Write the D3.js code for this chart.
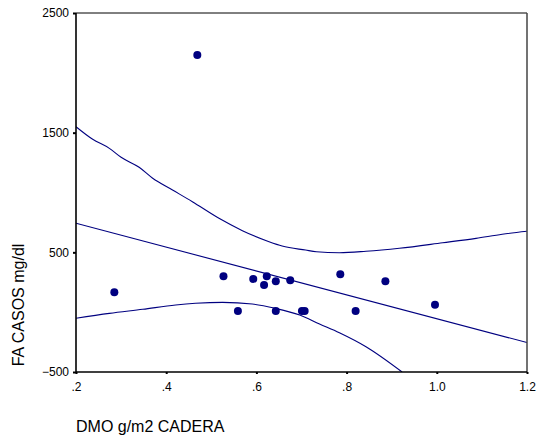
<!DOCTYPE html>
<html>
<head>
<meta charset="utf-8">
<script src="https://cdn.jsdelivr.net/npm/d3@7"></script>
<style>
  body { margin: 0; background: #fff; }
  text { font-family: "Liberation Sans", Arial, sans-serif; }
</style>
</head>
<body>
<div id="chart"></div>
<script>
// observed points
const dmo = [0.285, 0.469, 0.527, 0.559, 0.593, 0.617, 0.623, 0.643, 0.643, 0.675, 0.701, 0.707, 0.786, 0.820, 0.886, 0.996];
const fa = [166, 2149, 300, 10, 278, 228, 300, 259, 10, 267, 10, 10, 317, 10, 259, 61];

// fitted line
const fitX = [0.2, 1.2];
const fitY = [743, -254];

// upper confidence band
const upX = [0.2, 0.237, 0.274, 0.300, 0.340, 0.370, 0.414, 0.458, 0.517, 0.569, 0.628, 0.657, 0.709, 0.733, 0.784, 0.843, 0.917, 1.013, 1.087, 1.145, 1.2];
const upY = [1550, 1445, 1369, 1294, 1211, 1119, 1021, 923, 784, 681, 589, 553, 519, 505, 497, 509, 534, 580, 617, 651, 676];

// lower confidence band
const loX = [0.2, 0.274, 0.348, 0.421, 0.465, 0.525, 0.591, 0.642, 0.696, 0.740, 0.784, 0.843, 0.923];
const loY = [-51, -10, 24, 60, 74, 82, 68, 32, -24, -99, -172, -289, -500];

const xTicks = [0.2, 0.4, 0.6, 0.8, 1.0, 1.2];
const xTickLabels = [".2", ".4", ".6", ".8", "1.0", "1.2"];
const yTicks = [2500, 1500, 500, -500];

function drawChart() {
  const width = 538, height = 442;
  const left = 76, right = 527, top = 13, bottom = 372;
  const navy = "#000080";

  const x = d3.scaleLinear().domain([0.2, 1.2]).range([left, right]);
  const y = d3.scaleLinear().domain([-500, 2500]).range([bottom, top]);

  const svg = d3.select("#chart").append("svg")
    .attr("width", width)
    .attr("height", height);

  svg.append("clipPath").attr("id", "plot")
    .append("rect")
    .attr("x", left).attr("y", top)
    .attr("width", right - left).attr("height", bottom - top);

  const g = svg.append("g").attr("clip-path", "url(#plot)");

  const line = d3.line().x(d => x(d[0])).y(d => y(d[1]));
  const smooth = d3.line().x(d => x(d[0])).y(d => y(d[1])).curve(d3.curveMonotoneX);

  g.append("path")
    .attr("d", line(fitX.map((v, i) => [v, fitY[i]])))
    .attr("fill", "none")
    .attr("stroke", navy)
    .attr("stroke-width", 1.1);

  [[upX, upY], [loX, loY]].forEach(([xs, ys]) => {
    g.append("path")
      .attr("d", smooth(xs.map((v, i) => [v, ys[i]])))
      .attr("fill", "none")
      .attr("stroke", navy)
      .attr("stroke-width", 1.1);
  });

  g.selectAll("circle")
    .data(dmo.map((v, i) => [v, fa[i]]))
    .enter().append("circle")
    .attr("cx", d => x(d[0]))
    .attr("cy", d => y(d[1]))
    .attr("r", 4)
    .attr("fill", navy);

  // frame
  svg.append("line").attr("x1", left).attr("x2", right).attr("y1", top).attr("y2", top)
    .attr("stroke", "#000").attr("stroke-width", 1);
  svg.append("line").attr("x1", right).attr("x2", right).attr("y1", top).attr("y2", bottom)
    .attr("stroke", "#444").attr("stroke-width", 1.5);

  // axes
  const xAxis = d3.axisBottom(x)
    .tickValues(xTicks)
    .tickFormat((d, i) => xTickLabels[i])
    .tickSize(2)
    .tickPadding(8);
  const gx = svg.append("g").attr("transform", `translate(0,${bottom})`).call(xAxis);

  const yAxis = d3.axisLeft(y)
    .tickValues(yTicks)
    .tickFormat(d3.format("d"))
    .tickSize(3)
    .tickPadding(4);
  const gy = svg.append("g").attr("transform", `translate(${left},0)`).call(yAxis);

  [gx, gy].forEach(a => {
    a.select(".domain").attr("stroke", "#000").attr("stroke-width", 1.6);
    a.selectAll(".tick line").attr("stroke", "#000").attr("stroke-width", 2);
    a.selectAll(".tick text")
      .attr("fill", "#000")
      .style("font-size", "12px")
      .style("font-family", "'Liberation Sans', Arial, sans-serif");
  });
  gx.select(".domain").attr("d", `M${left},0H${right}`);
  gy.select(".domain").attr("d", `M0,${top}V${bottom}`);

  // axis titles
  svg.append("text")
    .attr("x", left)
    .attr("y", 432)
    .style("font-size", "16px")
    .text("DMO g/m2 CADERA");

  svg.append("text")
    .attr("transform", "translate(24,305) rotate(-90)")
    .attr("text-anchor", "middle")
    .style("font-size", "16px")
    .text("FA CASOS mg/dl");
}

drawChart();
</script>
</body>
</html>
